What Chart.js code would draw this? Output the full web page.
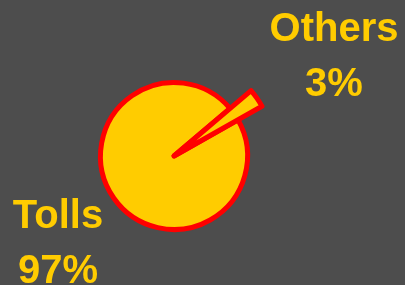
<!DOCTYPE html>
<html>
<head>
<meta charset="utf-8">
<script src="https://cdn.jsdelivr.net/npm/chart.js@4/dist/chart.umd.min.js"></script>
<style>
  html, body { margin: 0; padding: 0; background: #4d4d4d; }
  #wrap { position: relative; width: 405px; height: 285px; }
</style>
</head>
<body>
<div id="wrap"><canvas id="pieChart" width="405" height="285"></canvas></div>
<script>
var categories = ['Tolls', 'Others'];
var shares = [97, 3];
var shareLabels = ['97%', '3%'];

// label anchors relative to pie centre (dx, dy of first baseline)
var labelOffsets = [[-116, 72], [160, -115]];

// the "Others" slice is drawn longer than the rest, like the exploded slice in the picture
var explodeOthers = {
    id: 'explodeOthers',
    afterDatasetsUpdate: function (chart) {
        var meta = chart.getDatasetMeta(0);
        var base = meta.data[0].outerRadius;
        meta.data[1].outerRadius = base * 1.375;
    }
};

var pieLabels = {
    id: 'pieLabels',
    afterDraw: function (chart) {
        var ctx = chart.ctx;
        var arc = chart.getDatasetMeta(0).data[0];
        ctx.save();
        ctx.font = 'bold 40px "Liberation Sans", Arial, sans-serif';
        ctx.fillStyle = '#ffcc00';
        ctx.textAlign = 'center';
        ctx.textBaseline = 'alphabetic';
        categories.forEach(function (name, i) {
            var x = arc.x + labelOffsets[i][0];
            var y = arc.y + labelOffsets[i][1];
            ctx.fillText(name, x, y);
            ctx.fillText(shareLabels[i], x, y + 55);
        });
        ctx.restore();
    }
};

new Chart(document.getElementById('pieChart').getContext('2d'), {
    type: 'pie',
    data: {
        labels: categories,
        datasets: [{
            data: shares,
            backgroundColor: '#ffcc00',
            borderColor: '#ff0000',
            borderWidth: 5,
            borderJoinStyle: 'round',
            clip: false
        }]
    },
    options: {
        responsive: false,
        animation: false,
        events: [],
        rotation: 60.5,
        layout: {
            padding: { left: 98, right: 155, top: 80, bottom: 53 }
        },
        plugins: {
            legend: { display: false },
            tooltip: { enabled: false }
        }
    },
    plugins: [explodeOthers, pieLabels]
});
</script>
</body>
</html>
